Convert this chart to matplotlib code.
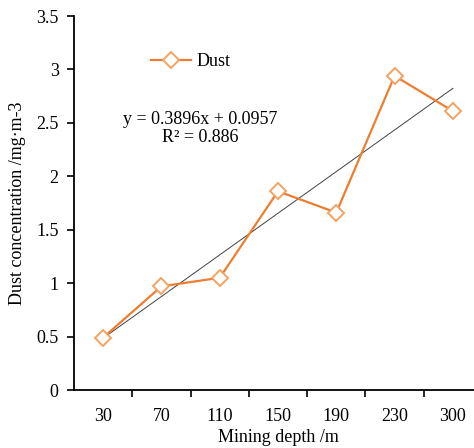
import matplotlib
matplotlib.use("Agg")
import matplotlib.pyplot as plt
import numpy as np

categories = ["30", "70", "110", "150", "190", "230", "300"]
dust = [0.49, 0.97, 1.05, 1.86, 1.66, 2.94, 2.61]
slope, intercept, r2 = 0.3896, 0.0957, 0.886

plt.rcParams['font.family'] = ['Liberation Serif', 'DejaVu Serif']

fig = plt.figure(figsize=(4.74, 4.48), dpi=100)
ax = fig.add_axes([74/474, 58/448, 408/474, 374/448])

x = np.arange(1, len(categories) + 1)
orange = '#ED7D31'
ax.plot(x, dust, color=orange, lw=1.6, marker='D', markersize=8.5,
        markerfacecolor='white', markeredgecolor='#F4A261', markeredgewidth=1.4,
        label='Dust', zorder=3)
ax.plot(x, slope * x + intercept, color='#404040', lw=0.7, zorder=2)

ax.set_xlim(0.5, 7.5)
ax.set_ylim(0, 3.5)
ax.set_yticks(np.arange(0, 3.51, 0.5))
ax.set_yticklabels(['0', '0.5', '1', '1.5', '2', '2.5', '3', '3.5'])
ax.set_xticks(x)
ax.set_xticklabels(categories)
ax.set_xticks(np.arange(1.5, 7.5, 1), minor=True)
ax.tick_params(axis='x', which='major', length=0, pad=13, labelsize=13)
ax.tick_params(axis='x', which='minor', length=5, width=1.2, direction='out')
ax.tick_params(axis='y', length=5, width=1.2, direction='out', labelsize=13, pad=6)
for s in ['top', 'right']:
    ax.spines[s].set_visible(False)
for s in ['left', 'bottom']:
    ax.spines[s].set_linewidth(1.3)

ax.set_xlabel('Mining depth /m', fontsize=13, labelpad=3)
ax.set_ylabel('Dust concentration /mg·m-3', fontsize=13, labelpad=7)

ax.legend(loc='upper left', bbox_to_anchor=(0.15, 0.945), frameon=False,
          fontsize=13, handlelength=2.2, handletextpad=0.3)

ax.text(0.31, 0.745, f'y = {slope}x + {intercept}\nR² = {r2}', transform=ax.transAxes,
        ha='center', va='top', fontsize=13, linespacing=1.05)

fig.savefig('out.png', dpi=100)
